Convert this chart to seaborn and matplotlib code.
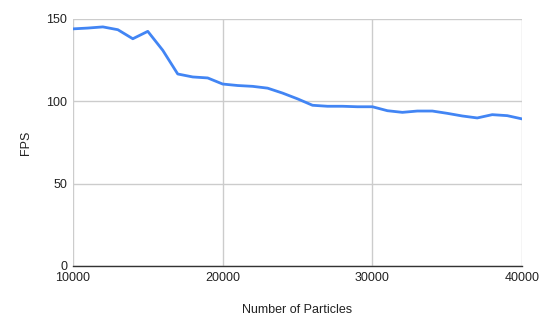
import matplotlib
matplotlib.use("Agg")
import matplotlib.pyplot as plt
import seaborn as sns
import pandas as pd

particles = list(range(10000, 40001, 1000))
fps = [144, 144.5, 145.2, 143.5, 138, 142.5, 131, 116.6, 114.8, 114.2,
       110.5, 109.6, 109.1, 108.0, 105.0, 101.5, 97.6, 97.0, 97.0, 96.7,
       96.7, 94.3, 93.3, 94.1, 94.1, 92.7, 91.1, 89.9, 91.9, 91.3, 89.3]
x_ticks = [10000, 20000, 30000, 40000]
y_ticks = [0, 50, 100, 150]

df = pd.DataFrame({"Number of Particles": particles, "FPS": fps})

sns.set_style("white")
plt.rcParams['font.family'] = ['Liberation Sans', 'DejaVu Sans']

fig = plt.figure(figsize=(5.4, 3.22), dpi=100)
ax = fig.add_axes([0.135, 0.174, 0.832, 0.767])

sns.lineplot(data=df, x="Number of Particles", y="FPS", color="#4285F4",
             linewidth=2, ax=ax)

ax.set_xlim(10000, 40000)
ax.set_ylim(0, 150)
ax.set_xticks(x_ticks)
ax.set_yticks(y_ticks)
ax.set_xticklabels([str(t) for t in x_ticks])
ax.grid(True, color="#cccccc", linewidth=1)
ax.set_axisbelow(True)
for s in ["top", "right", "left"]:
    ax.spines[s].set_visible(False)
ax.spines["bottom"].set_color("#333333")
ax.spines["bottom"].set_linewidth(1)
ax.tick_params(axis="both", length=0, labelsize=9, colors="#222222", pad=4)
ax.set_xlabel("Number of Particles", fontsize=9, color="#222222", labelpad=15)
ax.set_ylabel("FPS", fontsize=9, color="#222222", labelpad=10)

fig.savefig("out.png", dpi=100)
